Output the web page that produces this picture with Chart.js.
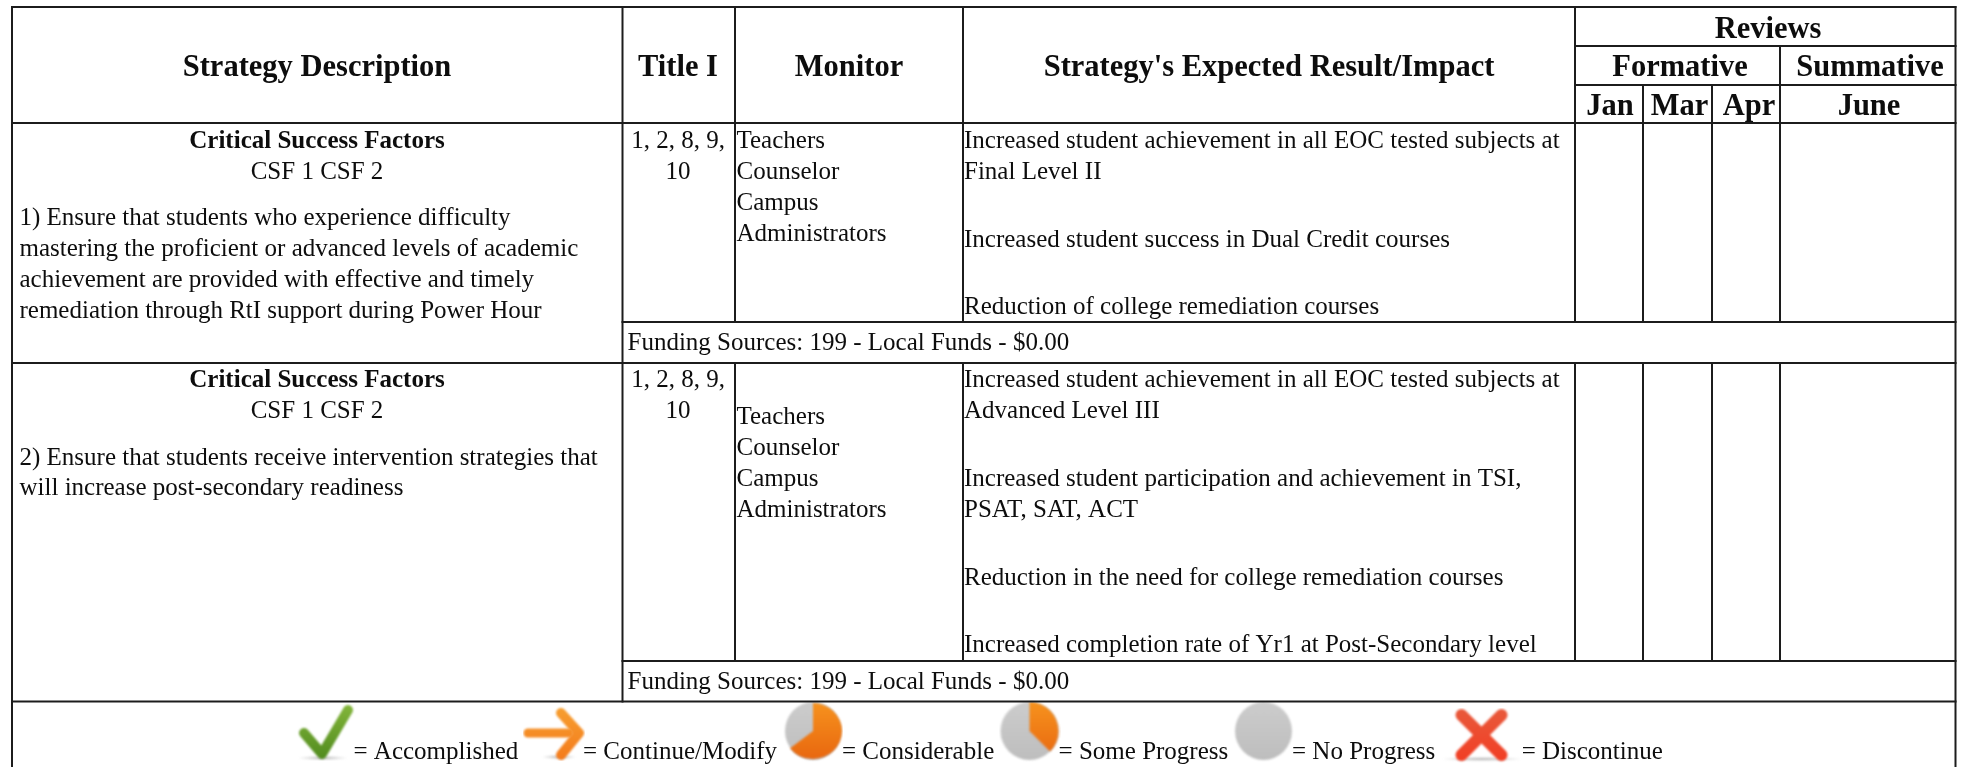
<!DOCTYPE html>
<html>
<head>
<meta charset="utf-8">
<title>Strategy table</title>
<script src="https://cdn.jsdelivr.net/npm/chart.js@4"></script>
<style>
  html, body { margin: 0; background: #fff; }
  canvas { display: block; filter: blur(0.35px); }
</style>
</head>
<body>
<canvas id="chart" width="1961" height="767"></canvas>
<script>
// Table edges
const columnEdges = [12, 622.5, 735, 963, 1575, 1643, 1712, 1780, 1955.5];
const rowEdges = [7, 46, 85, 123, 322, 363, 661, 701.5, 767];

// Header
const headerLabels = ['Strategy Description', 'Title I', 'Monitor', "Strategy's Expected Result/Impact"];
const reviewLabels = ['Reviews', 'Formative', 'Summative'];
const monthLabels = ['Jan', 'Mar', 'Apr', 'June'];

// Body
const factorsTitle = 'Critical Success Factors';
const factorsCodes = 'CSF 1 CSF 2';
const strategyOne = [
  '1) Ensure that students who experience difficulty',
  'mastering the proficient or advanced levels of academic',
  'achievement are provided with effective and timely',
  'remediation through RtI support during Power Hour',
];
const strategyTwo = [
  '2) Ensure that students receive intervention strategies that',
  'will increase post-secondary readiness',
];
const titleOne = ['1, 2, 8, 9,', '10'];
const monitors = ['Teachers', 'Counselor', 'Campus', 'Administrators'];
const resultsOne = [
  'Increased student achievement in all EOC tested subjects at',
  'Final Level II',
  'Increased student success in Dual Credit courses',
  'Reduction of college remediation courses',
];
const resultsTwo = [
  'Increased student achievement in all EOC tested subjects at',
  'Advanced Level III',
  'Increased student participation and achievement in TSI,',
  'PSAT, SAT, ACT',
  'Reduction in the need for college remediation courses',
  'Increased completion rate of Yr1 at Post-Secondary level',
];
const fundingLabel = 'Funding Sources: 199 - Local Funds - $0.00';

// Key at the bottom
const keyLabels = ['= Accomplished', '= Continue/Modify', '= Considerable', '= Some Progress', '= No Progress', '= Discontinue'];

const [L, DESC, TITLE, MON, RES, JAN, MAR, APR, R] = columnEdges;
const [TOP, R1, R2, HEAD, F1, ROW1, F2, ROW2, BOTTOM] = rowEdges;

const gridLines = [
  [L, TOP, R, TOP], [RES, R1, R, R1], [RES, R2, R, R2], [L, HEAD, R, HEAD],
  [DESC, F1, R, F1], [L, ROW1, R, ROW1], [DESC, F2, R, F2], [L, ROW2, R, ROW2],
  [L, TOP, L, BOTTOM], [R, TOP, R, BOTTOM], [DESC, TOP, DESC, ROW2],
  [TITLE, TOP, TITLE, F1], [TITLE, ROW1, TITLE, F2],
  [MON, TOP, MON, F1], [MON, ROW1, MON, F2],
  [RES, TOP, RES, F1], [RES, ROW1, RES, F2],
  [JAN, R2, JAN, F1], [JAN, ROW1, JAN, F2],
  [MAR, R2, MAR, F1], [MAR, ROW1, MAR, F2],
  [APR, R1, APR, F1], [APR, ROW1, APR, F2],
];

const BODY = '25px "Liberation Serif"';
const HEAD_FONT = 'bold 30.5px "Liberation Serif"';
const FACTOR_FONT = 'bold 25px "Liberation Serif"';

function put(list, text, x, y, font, align) {
  list.push({ text, x, y, font, align: align || 'left' });
}

function buildTexts() {
  const t = [];
  put(t, headerLabels[0], 317, 76, HEAD_FONT, 'center');
  put(t, headerLabels[1], 678, 76, HEAD_FONT, 'center');
  put(t, headerLabels[2], 849, 76, HEAD_FONT, 'center');
  put(t, headerLabels[3], 1269, 76, HEAD_FONT, 'center');
  put(t, reviewLabels[0], 1768, 38, HEAD_FONT, 'center');
  put(t, reviewLabels[1], 1680, 76, HEAD_FONT, 'center');
  put(t, reviewLabels[2], 1870, 76, HEAD_FONT, 'center');
  [1610, 1679.5, 1749, 1869].forEach((x, i) => put(t, monthLabels[i], x, 115, HEAD_FONT, 'center'));

  put(t, factorsTitle, 317, 148, FACTOR_FONT, 'center');
  put(t, factorsCodes, 317, 179, BODY, 'center');
  [225, 256, 287, 318].forEach((y, i) => put(t, strategyOne[i], 19.5, y, BODY));
  [148, 179].forEach((y, i) => put(t, titleOne[i], 678, y, BODY, 'center'));
  [148, 179, 210, 241].forEach((y, i) => put(t, monitors[i], 736.5, y, BODY));
  [148, 179, 247, 314].forEach((y, i) => put(t, resultsOne[i], 964, y, BODY));
  put(t, fundingLabel, 627.5, 350, BODY);

  put(t, factorsTitle, 317, 387, FACTOR_FONT, 'center');
  put(t, factorsCodes, 317, 418, BODY, 'center');
  [465, 495].forEach((y, i) => put(t, strategyTwo[i], 19.5, y, BODY));
  [387, 418].forEach((y, i) => put(t, titleOne[i], 678, y, BODY, 'center'));
  [424, 455, 486, 517].forEach((y, i) => put(t, monitors[i], 736.5, y, BODY));
  [387, 418, 486, 517, 585, 652].forEach((y, i) => put(t, resultsTwo[i], 964, y, BODY));
  put(t, fundingLabel, 627.5, 688.5, BODY);

  [353.5, 583, 842, 1058.6, 1292, 1521.7].forEach((x, i) => put(t, keyLabels[i], x, 759, BODY));
  return t;
}

// Key icons, drawn once and handed to Chart.js as point styles
function iconCanvas(w, h, draw) {
  const c = document.createElement('canvas');
  c.width = w;
  c.height = h;
  const ctx = c.getContext('2d');
  ctx.filter = 'blur(0.8px)';
  draw(ctx, w, h);
  return c;
}

function shadow(ctx, cx, y, rx) {
  const g = ctx.createRadialGradient(0, 0, 0, 0, 0, 1);
  g.addColorStop(0, 'rgba(120,120,120,.6)');
  g.addColorStop(1, 'rgba(120,120,120,0)');
  ctx.save();
  ctx.translate(cx, y);
  ctx.scale(rx, 2);
  ctx.fillStyle = g;
  ctx.fillRect(-1, -1, 2, 2);
  ctx.restore();
}

function stroke(ctx, pts, width, style) {
  ctx.beginPath();
  pts.forEach(([x, y], i) => (i ? ctx.lineTo(x, y) : ctx.moveTo(x, y)));
  ctx.lineWidth = width;
  ctx.lineCap = 'round';
  ctx.lineJoin = 'round';
  ctx.strokeStyle = style;
  ctx.stroke();
}

function vertical(ctx, h, top, bottom) {
  const g = ctx.createLinearGradient(0, 0, 0, h);
  g.addColorStop(0, top);
  g.addColorStop(1, bottom);
  return g;
}

function pie(ctx, w, h, endAngle) {
  const cx = w / 2, cy = h / 2, rx = w / 2 - 2, ry = h / 2 - 2;
  ctx.beginPath();
  ctx.ellipse(cx, cy, rx, ry, 0, 0, Math.PI * 2);
  ctx.fillStyle = vertical(ctx, h, '#cdcdcd', '#bdbdbd');
  ctx.fill();
  if (endAngle) {
    ctx.beginPath();
    ctx.moveTo(cx, cy);
    ctx.ellipse(cx, cy, rx, ry, -Math.PI / 2, 0, endAngle);
    ctx.closePath();
    ctx.fillStyle = vertical(ctx, h, '#f7941e', '#e8650f');
    ctx.fill();
  }
}

// Local coordinates: each icon canvas is centred on its point
const checkIcon = iconCanvas(60, 60, (ctx) => {
  shadow(ctx, 27, 57, 25);
  stroke(ctx, [[8, 32], [26, 53], [52, 9]], 10, vertical(ctx, 60, '#86b83c', '#4f8a1e'));
});
const arrowIcon = iconCanvas(62, 56, (ctx) => {
  shadow(ctx, 36, 52, 17);
  const style = vertical(ctx, 56, '#f7a030', '#f47a1c');
  stroke(ctx, [[5, 28], [46, 28]], 9, style);
  stroke(ctx, [[38, 8], [56, 28], [38, 50]], 10, style);
});
const considerableIcon = iconCanvas(60, 62, (ctx, w, h) => pie(ctx, w, h, Math.PI * 1.29));
const someIcon = iconCanvas(62, 62, (ctx, w, h) => pie(ctx, w, h, Math.PI * 0.75));
const noneIcon = iconCanvas(61, 62, (ctx, w, h) => pie(ctx, w, h, 0));
const stopIcon = iconCanvas(84, 56, (ctx) => {
  shadow(ctx, 42, 51, 40);
  const style = vertical(ctx, 56, '#e85a3c', '#f23c22');
  stroke(ctx, [[21.5, 7], [61.5, 47]], 12, style);
  stroke(ctx, [[61.5, 7], [21.5, 47]], 12, style);
});

const iconStyles = [checkIcon, arrowIcon, considerableIcon, someIcon, noneIcon, stopIcon];
const iconCentersX = [326, 554, 813, 1029.5, 1263.5, 1482];
const iconCentersY = [731, 733, 731, 731, 731, 736];

const tableTexts = {
  id: 'tableTexts',
  afterDatasetsDraw(chart) {
    const { ctx, scales } = chart;
    ctx.save();
    ctx.fillStyle = '#0d0d0d';
    ctx.textBaseline = 'alphabetic';
    buildTexts().forEach((item) => {
      ctx.font = item.font;
      ctx.textAlign = item.align;
      ctx.fillText(item.text, scales.x.getPixelForValue(item.x), scales.y.getPixelForValue(item.y));
    });
    ctx.restore();
  },
};

const datasets = gridLines.map(([x1, y1, x2, y2]) => ({
  data: [{ x: x1, y: y1 }, { x: x2, y: y2 }],
  showLine: true,
  borderColor: '#1c1c1c',
  borderWidth: 2,
  pointRadius: 0,
  borderCapStyle: 'square',
}));

datasets.push({
  data: iconCentersX.map((x, i) => ({ x, y: iconCentersY[i] })),
  showLine: false,
  pointStyle: iconStyles,
});

new Chart(document.getElementById('chart'), {
  type: 'scatter',
  data: { datasets },
  options: {
    responsive: false,
    animation: false,
    events: [],
    layout: { padding: 0, autoPadding: false },
    plugins: { legend: { display: false }, tooltip: { enabled: false } },
    scales: {
      x: { type: 'linear', display: false, min: 0, max: 1961 },
      y: { type: 'linear', display: false, min: 0, max: 767, reverse: true },
    },
  },
  plugins: [tableTexts],
});
</script>
</body>
</html>
